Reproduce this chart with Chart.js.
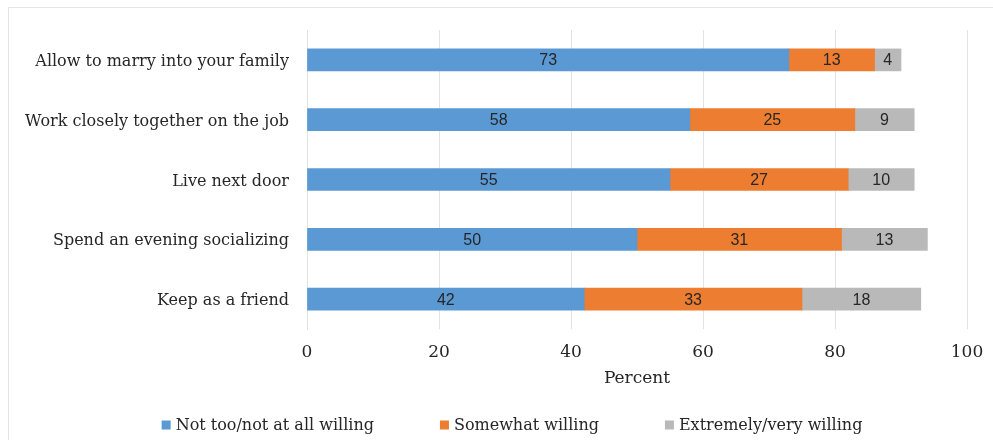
<!DOCTYPE html>
<html>
<head>
<meta charset="utf-8">
<script src="https://cdn.jsdelivr.net/npm/chart.js@4.4.1/dist/chart.umd.min.js"></script>
<style>
  html, body { margin: 0; padding: 0; background: #ffffff; }
  #wrap { position: relative; width: 993px; height: 440px; overflow: hidden; }
  #frame { position: absolute; left: 8px; top: 7px; width: 1000px; height: 460px;
           border: 1px solid #e4e4e4; box-sizing: border-box; pointer-events: none; }
  canvas { position: absolute; left: 0; top: 0; }
</style>
</head>
<body>
<div id="wrap">
  <canvas id="chart" width="993" height="440"></canvas>
  <div id="frame"></div>
</div>
<script>
const categories = [
  'Allow to marry into your family',
  'Work closely together on the job',
  'Live next door',
  'Spend an evening socializing',
  'Keep as a friend'
];
const notWilling = [73, 58, 55, 50, 42];
const somewhatWilling = [13, 25, 27, 31, 33];
const veryWilling = [4, 9, 10, 13, 18];
const xTicks = [0, 20, 40, 60, 80, 100];

const serif = '"DejaVu Serif", "Liberation Serif", serif';
const narrow = '"Liberation Sans Narrow", "Liberation Sans", Arial, sans-serif';
const textColor = '#262626';

// Writes each segment's value in the middle of its bar
const segmentLabels = {
  id: 'segmentLabels',
  afterDatasetsDraw(chart) {
    const ctx = chart.ctx;
    ctx.save();
    ctx.font = '16px ' + narrow;
    ctx.fillStyle = textColor;
    ctx.textAlign = 'center';
    ctx.textBaseline = 'middle';
    chart.data.datasets.forEach((ds, i) => {
      const meta = chart.getDatasetMeta(i);
      meta.data.forEach((bar, j) => {
        const p = bar.getProps(['x', 'y', 'base'], true);
        ctx.fillText(String(ds.data[j]), (p.x + p.base) / 2, p.y + 1);
      });
    });
    ctx.restore();
  }
};

// Bottom legend with wide gaps between entries
const wideLegend = {
  id: 'wideLegend',
  afterDraw(chart, args, opts) {
    const ctx = chart.ctx;
    ctx.save();
    ctx.font = '16px ' + serif;
    ctx.textBaseline = 'middle';
    ctx.textAlign = 'left';
    const box = 9, gap = 5, spacing = 66;
    const items = chart.data.datasets.map(ds => ({
      text: ds.label, color: ds.backgroundColor, w: box + gap + ctx.measureText(ds.label).width
    }));
    const total = items.reduce((s, it) => s + it.w, 0) + spacing * (items.length - 1);
    let x = opts.centerX - total / 2;
    const y = opts.y;
    items.forEach(it => {
      ctx.fillStyle = it.color;
      ctx.fillRect(x, y - box / 2, box, box);
      ctx.fillStyle = textColor;
      ctx.fillText(it.text, x + box + gap, y + 1);
      x += it.w + spacing;
    });
    ctx.restore();
  }
};

new Chart(document.getElementById('chart'), {
  type: 'bar',
  data: {
    labels: categories,
    datasets: [
      { label: 'Not too/not at all willing', data: notWilling, backgroundColor: '#5a99d3' },
      { label: 'Somewhat willing', data: somewhatWilling, backgroundColor: '#ed7d31' },
      { label: 'Extremely/very willing', data: veryWilling, backgroundColor: '#b9b9b9' }
    ]
  },
  options: {
    indexAxis: 'y',
    responsive: false,
    animation: false,
    devicePixelRatio: 1,
    layout: { padding: { top: 30, right: 26, left: 0, bottom: 41 } },
    datasets: { bar: { barThickness: 22, categoryPercentage: 1 } },
    scales: {
      x: {
        stacked: true,
        min: 0,
        max: 100,
        afterBuildTicks(scale) { scale.ticks = xTicks.map(v => ({ value: v })); },
        grid: { color: '#e2e2e2', drawTicks: false },
        border: { display: false },
        ticks: { font: { family: serif, size: 17 }, color: textColor, padding: 13 },
        title: { display: true, text: 'Percent', font: { family: serif, size: 17 }, color: textColor, padding: { top: 4, bottom: 10 } },
        afterFit(scale) {
          scale.height = 70;
          scale.paddingLeft = 0;
          scale.paddingRight = 0;
        }
      },
      y: {
        stacked: true,
        grid: { display: false, drawTicks: false },
        border: { display: true, color: '#e2e2e2' },
        ticks: { font: { family: serif, size: 16 }, color: textColor, padding: 18, labelOffset: 2 },
        afterFit(scale) { scale.width = 307; }
      }
    },
    plugins: {
      legend: { display: false },
      tooltip: { enabled: false },
      wideLegend: { centerX: 512, y: 425 }
    }
  },
  plugins: [segmentLabels, wideLegend]
});
</script>
</body>
</html>
